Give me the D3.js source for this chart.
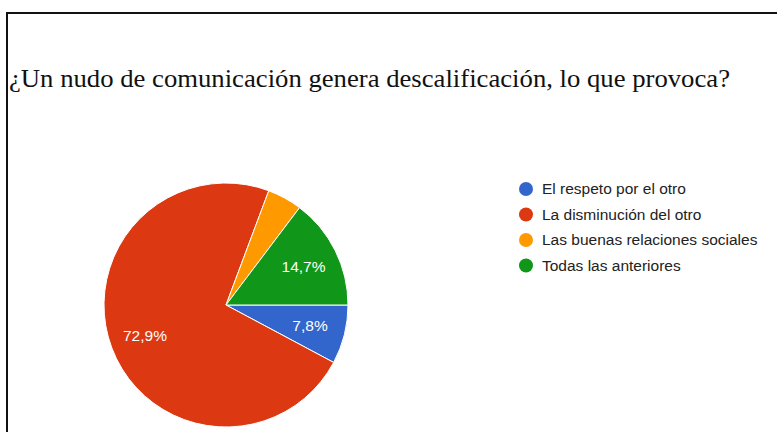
<!DOCTYPE html>
<html>
<head>
<meta charset="utf-8">
<script src="https://cdn.jsdelivr.net/npm/d3@7"></script>
<style>
  html, body { margin: 0; padding: 0; background: #fff; }
  svg { display: block; }
</style>
</head>
<body>
<svg id="vis" width="777" height="432"></svg>
<script>
// data
const categories = ["El respeto por el otro", "La disminución del otro", "Las buenas relaciones sociales", "Todas las anteriores"];
const values = [7.8, 72.9, 4.6, 14.7];
const labels = ["7,8%", "72,9%", "", "14,7%"];
const colors = ["#3366cc", "#dc3912", "#ff9900", "#109618"];
const title = "¿Un nudo de comunicación genera descalificación, lo que provoca?";

const svg = d3.select("svg#vis");
const width = 777, height = 432;

// frame (top + left lines)
svg.append("path")
  .attr("d", "M7,432 V13 H777")
  .attr("fill", "none")
  .attr("stroke", "#111")
  .attr("stroke-width", 2);

svg.append("text")
  .attr("x", 9)
  .attr("y", 87)
  .attr("font-family", "'Liberation Serif', 'Times New Roman', serif")
  .attr("font-size", 26)
  .attr("textLength", 721)
  .attr("lengthAdjust", "spacingAndGlyphs")
  .attr("fill", "#111")
  .text(title);

// pie
const cx = 226, cy = 305, R = 122;
const data = values.map((v, i) => ({ name: categories[i], value: v, label: labels[i], color: colors[i] }));

const pie = d3.pie()
  .sort(null)
  .value(d => d.value)
  .startAngle(Math.PI / 2)
  .endAngle(Math.PI / 2 + 2 * Math.PI);

const arc = d3.arc().innerRadius(0).outerRadius(R);
const labelArc = d3.arc().innerRadius(R * 0.71).outerRadius(R * 0.71);

const g = svg.append("g").attr("transform", "translate(" + cx + "," + cy + ")");

g.selectAll("path.slice")
  .data(pie(data))
  .enter()
  .append("path")
  .attr("class", "slice")
  .attr("d", arc)
  .attr("fill", d => d.data.color)
  .attr("stroke", "#fff")
  .attr("stroke-width", 1);

g.selectAll("text.pct")
  .data(pie(data))
  .enter()
  .append("text")
  .attr("class", "pct")
  .attr("transform", d => "translate(" + labelArc.centroid(d) + ")")
  .attr("text-anchor", "middle")
  .attr("dy", "0.35em")
  .attr("font-family", "'Liberation Sans', Arial, sans-serif")
  .attr("font-size", 15.5)
  .attr("fill", "#fff")
  .text(d => d.data.label);

// legend
const legend = svg.append("g").attr("transform", "translate(526,189)");
const ly = d3.scaleLinear().domain([0, 1]).range([0, 25.5]);

const item = legend.selectAll("g.item")
  .data(data)
  .enter()
  .append("g")
  .attr("class", "item")
  .attr("transform", (d, i) => "translate(0," + ly(i) + ")");

item.append("circle")
  .attr("r", 7)
  .attr("fill", d => d.color);

item.append("text")
  .attr("x", 16)
  .attr("dy", "0.35em")
  .attr("font-family", "'Liberation Sans', Arial, sans-serif")
  .attr("font-size", 15.5)
  .attr("fill", "#222")
  .text(d => d.name);
</script>
</body>
</html>
